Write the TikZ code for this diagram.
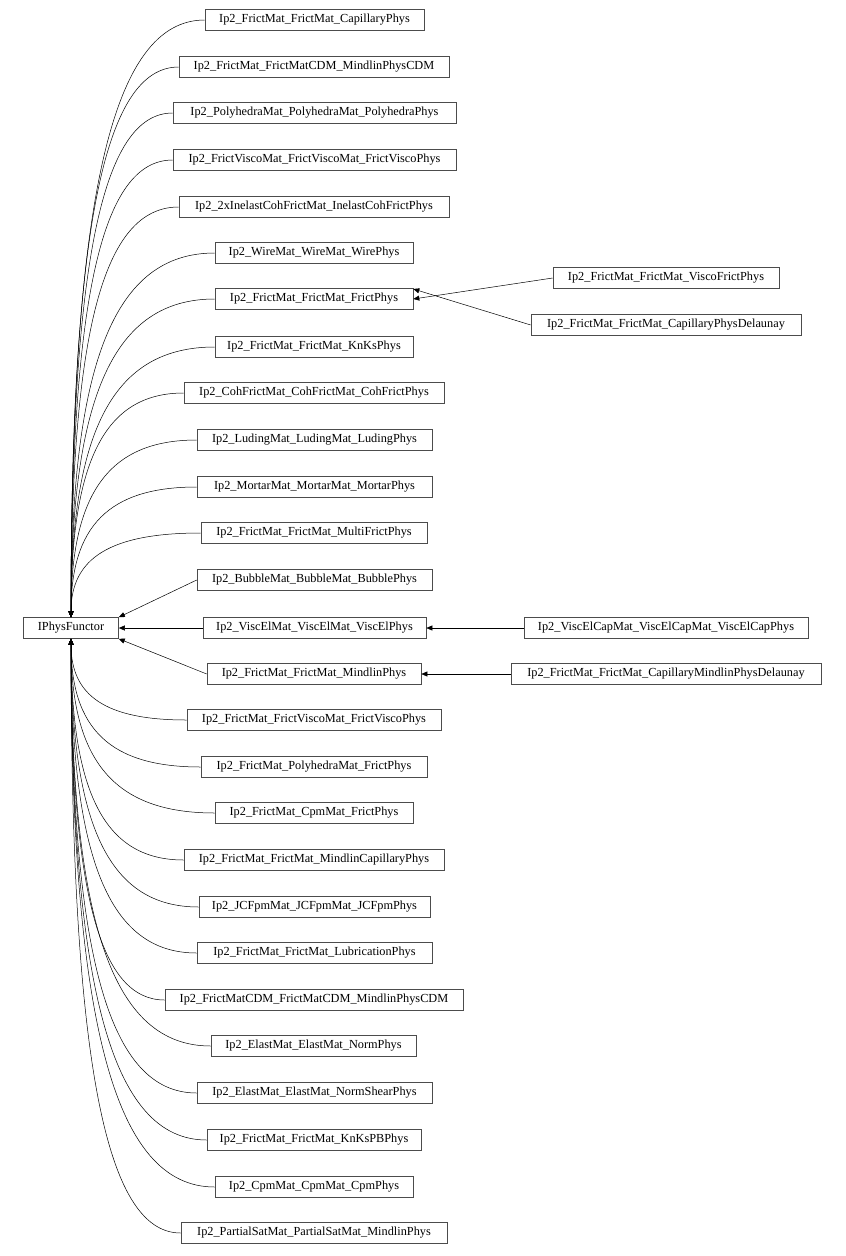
\documentclass[tikz,border=0pt]{standalone}
\usepackage{fontspec}
\setmainfont{Liberation Serif}
\usetikzlibrary{arrows.meta}
\begin{document}
\begin{tikzpicture}[x=1pt,y=-1pt,
  cls/.style={draw=black!70,line width=0.6pt,minimum height=21pt,inner sep=0pt,font=\fontsize{12.3}{14}\selectfont},
  arr/.style={line width=0.5pt,{Triangle[length=6pt,width=5pt]}-}]
\useasboundingbox (0,0) rectangle (846,1256);
\node[cls,minimum width=95pt] (base) at (71,628) {IPhysFunctor};
\foreach \i/\l/\r/\y/\t in {
1/205/424/20/Ip2\_FrictMat\_FrictMat\_CapillaryPhys,
2/179/449/67/Ip2\_FrictMat\_FrictMatCDM\_MindlinPhysCDM,
3/173/456/113/Ip2\_PolyhedraMat\_PolyhedraMat\_PolyhedraPhys,
4/173/456/160/Ip2\_FrictViscoMat\_FrictViscoMat\_FrictViscoPhys,
5/179/449/207/Ip2\_2xInelastCohFrictMat\_InelastCohFrictPhys,
6/215/413/253/Ip2\_WireMat\_WireMat\_WirePhys,
7/215/413/299/Ip2\_FrictMat\_FrictMat\_FrictPhys,
8/215/413/347/Ip2\_FrictMat\_FrictMat\_KnKsPhys,
9/184/444/393/Ip2\_CohFrictMat\_CohFrictMat\_CohFrictPhys,
10/197/432/440/Ip2\_LudingMat\_LudingMat\_LudingPhys,
11/197/432/487/Ip2\_MortarMat\_MortarMat\_MortarPhys,
12/201/427/533/Ip2\_FrictMat\_FrictMat\_MultiFrictPhys,
13/197/432/580/Ip2\_BubbleMat\_BubbleMat\_BubblePhys,
14/203/426/628/Ip2\_ViscElMat\_ViscElMat\_ViscElPhys,
15/207/421/674/Ip2\_FrictMat\_FrictMat\_MindlinPhys,
16/187/441/720/Ip2\_FrictMat\_FrictViscoMat\_FrictViscoPhys,
17/201/427/767/Ip2\_FrictMat\_PolyhedraMat\_FrictPhys,
18/215/413/813/Ip2\_FrictMat\_CpmMat\_FrictPhys,
19/184/444/860/Ip2\_FrictMat\_FrictMat\_MindlinCapillaryPhys,
20/199/430/907/Ip2\_JCFpmMat\_JCFpmMat\_JCFpmPhys,
21/197/432/953/Ip2\_FrictMat\_FrictMat\_LubricationPhys,
22/165/463/1000/Ip2\_FrictMatCDM\_FrictMatCDM\_MindlinPhysCDM,
23/211/416/1046/Ip2\_ElastMat\_ElastMat\_NormPhys,
24/197/432/1093/Ip2\_ElastMat\_ElastMat\_NormShearPhys,
25/207/421/1140/Ip2\_FrictMat\_FrictMat\_KnKsPBPhys,
26/215/413/1187/Ip2\_CpmMat\_CpmMat\_CpmPhys,
27/181/447/1233/Ip2\_PartialSatMat\_PartialSatMat\_MindlinPhys}
{
  \pgfmathsetmacro\w{\r-\l}
  \pgfmathsetmacro\cx{(\r+\l)/2}
  \node[cls,minimum width=\w pt] (n\i) at (\cx,\y) {\t};
  \ifnum\i<13
    \draw[arr] (base.north) .. controls (71,{\y+ (617-\y)*0.3}) and ({71+(\l-71)*0.3},\y) .. (n\i.west);
  \else\ifnum\i>15
    \draw[arr] (base.south) .. controls (71,{\y- (\y-640)*0.3}) and ({71+(\l-71)*0.3},\y) .. (n\i.west);
  \fi\fi
}
\draw[arr] (base.north east) -- (n13.west);
\draw[arr] (base.east) -- (n14.west);
\draw[arr] (base.south east) -- (n15.west);
\node[cls,minimum width=226pt] (r1) at (666,278) {Ip2\_FrictMat\_FrictMat\_ViscoFrictPhys};
\node[cls,minimum width=270pt] (r2) at (666,325) {Ip2\_FrictMat\_FrictMat\_CapillaryPhysDelaunay};
\node[cls,minimum width=284pt] (r3) at (666,628) {Ip2\_ViscElCapMat\_ViscElCapMat\_ViscElCapPhys};
\node[cls,minimum width=310pt] (r4) at (666,674) {Ip2\_FrictMat\_FrictMat\_CapillaryMindlinPhysDelaunay};
\draw[arr] (n7.east) -- (r1.west);
\draw[arr] ([yshift=10pt]n7.east) -- (r2.west);
\draw[arr] (n14.east) -- (r3.west);
\draw[arr] (n15.east) -- (r4.west);
\end{tikzpicture}
\end{document}
